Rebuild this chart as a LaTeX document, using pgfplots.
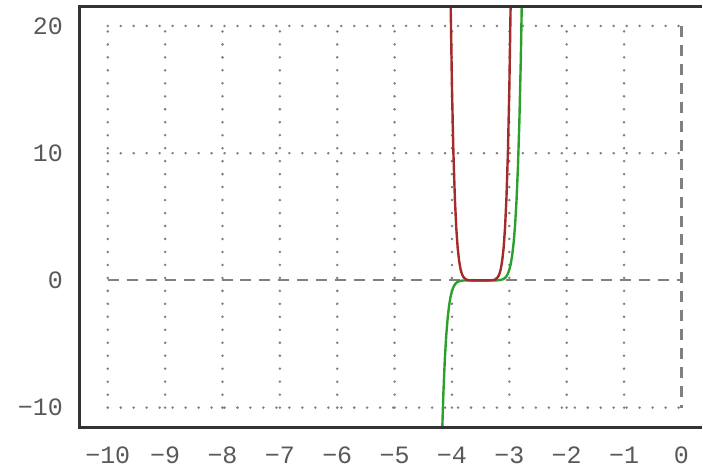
\documentclass[border=0pt]{standalone}
\usepackage{fontspec}
\setmainfont{Liberation Mono}
\usepackage{pgfplots}
\pgfplotsset{compat=1.18}
\definecolor{cred}{HTML}{A52A2A}
\definecolor{cgreen}{HTML}{2CA02C}
\definecolor{gridc}{HTML}{808080}
\begin{document}
\begin{tikzpicture}
\begin{axis}[
  scale only axis, width=311.5pt, height=210.5pt,
  xmin=-10.487, xmax=0.35, ymin=-11.53, ymax=21.49,
  axis line style={draw=none},
  xtick={-10,-9,-8,-7,-6,-5,-4,-3,-2,-1,0},
  xticklabels={−10,−9,−8,−7,−6,−5,−4,−3,−2,−1,0},
  ytick={-10,0,10,20},
  yticklabels={−10,0,10,20},
  major tick length=0pt,
  tick label style={font=\fontsize{12.5}{15}\selectfont, text=black!65},
  xticklabel style={yshift=-6.5pt},
  yticklabel style={xshift=-5pt},
]
\draw[gridc, line width=1.4pt, line cap=round, dash pattern=on 0pt off 6.5pt]
  \foreach \x in {-10,-9,...,-1} {(axis cs:\x,-10) -- (axis cs:\x,20)}
  (axis cs:-10,-10) -- (axis cs:0,-10)
  (axis cs:-10,10) -- (axis cs:0,10)
  (axis cs:-10,20) -- (axis cs:0,20);
\draw[gridc, line width=1.1pt, dash pattern=on 5.5pt off 4pt]
  (axis cs:-10,0) -- (axis cs:0,0)
  (axis cs:0,20) -- (axis cs:0,-10);
\addplot[cgreen, line width=1.2pt] coordinates {
(-4.225,-23.80) (-4.2,-17.35) (-4.175,-12.51) (-4.15,-8.906) (-4.125,-6.257)
(-4.1,-4.334) (-4.075,-2.95) (-4.05,-1.980) (-4.025,-1.30) (-4.0,-0.840) (-3.975,-0.53)
(-3.95,-0.326) (-3.925,-0.195) (-3.9,-0.113) (-3.85,-0.034) (-3.8,-0.008)
(-3.7,0) (-3.5,0) (-3.3,0) (-3.2,0.008) (-3.15,0.034) (-3.1,0.113) (-3.075,0.195)
(-3.05,0.326) (-3.025,0.53) (-3.0,0.840) (-2.975,1.30) (-2.95,1.980) (-2.925,2.95)
(-2.9,4.334) (-2.875,6.257) (-2.85,8.906) (-2.825,12.508) (-2.8,17.35) (-2.775,23.80)
};
\addplot[cred, line width=1.2pt] coordinates {
(-4.05,32.4) (-4.025,22.33) (-4.0,15.12) (-3.975,10.03) (-3.95,6.507) (-3.925,4.119)
(-3.9,2.536) (-3.875,1.52) (-3.85,0.871) (-3.825,0.48) (-3.8,0.254) (-3.75,0.059) (-3.7,0.0099)
(-3.6,0) (-3.5,0) (-3.4,0)
(-3.3,0.0099) (-3.25,0.059) (-3.2,0.254) (-3.175,0.48) (-3.15,0.871) (-3.125,1.52) (-3.1,2.536)
(-3.075,4.119) (-3.05,6.507) (-3.025,10.03) (-3.0,15.12) (-2.975,22.33) (-2.95,32.4)
};
\end{axis}
\draw[black!80, line width=1.5pt] (current axis.north east) -- (current axis.north west)
  -- (current axis.south west) -- (current axis.south east);
\path (current axis.south west) ++(-40pt,-21.5pt) coordinate (bbA);
\path (current axis.north east) ++(0pt,3.5pt) coordinate (bbB);
\path (bbA) rectangle (bbB);
\end{tikzpicture}
\end{document}
